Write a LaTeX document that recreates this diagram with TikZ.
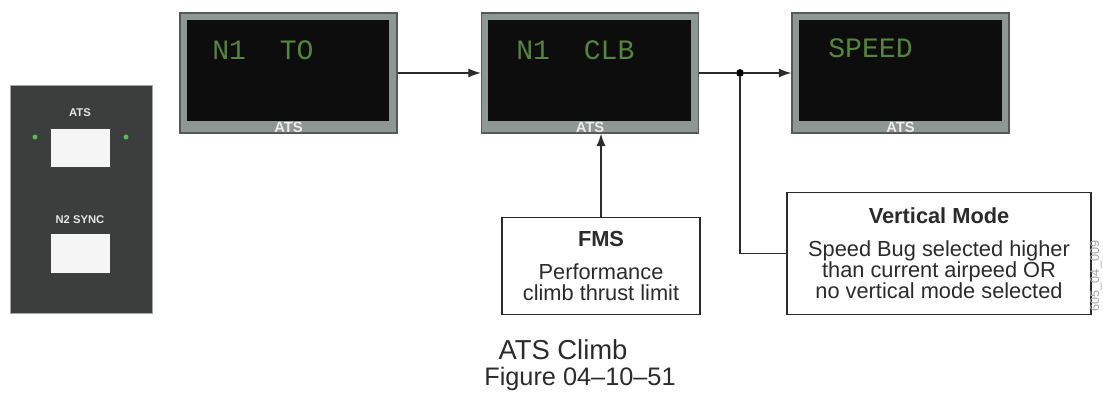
\documentclass[tikz,border=0pt]{standalone}
\usepackage{fontspec}
\setmainfont{Liberation Sans}
\newfontfamily\dotfont{Liberation Mono}
\usetikzlibrary{positioning, arrows, arrows.meta, shapes}
\definecolor{bezel}{HTML}{8D9793}
\definecolor{bezeledge}{HTML}{55595A}
\definecolor{lcdgreen}{HTML}{55863F}
\definecolor{panelgrey}{HTML}{3C3D3D}
\definecolor{ledgreen}{HTML}{52C24A}
\definecolor{inkgrey}{HTML}{2B2B2B}
\tikzstyle{frame} = [rectangle, draw=bezeledge, line width=0.8pt, fill=bezel, minimum width=5.425cm, minimum height=3cm]
\tikzstyle{screen} = [rectangle, fill=black!95, minimum width=5.05cm, minimum height=2.525cm]
\tikzstyle{readout} = [anchor=west, inner sep=0pt, text=lcdgreen, font=\dotfont\fontsize{20}{20}\selectfont]
\tikzstyle{stripname} = [inner sep=0.3pt, text=white!92!black, font=\bfseries\fontsize{10.5}{10.5}\selectfont]
\tikzstyle{infobox} = [rectangle, draw=inkgrey, line width=1pt, fill=white, align=center, text=inkgrey, font=\fontsize{15.5}{15}\selectfont]
\tikzstyle{arrow} = [line width=1pt, draw=inkgrey, ->, >={Latex[length=9pt, width=6.5pt]}]
\tikzstyle{wire} = [line width=1pt, draw=inkgrey]
\tikzstyle{junction} = [circle, fill=black, inner sep=0pt, minimum size=5.5pt]
\tikzstyle{button} = [rectangle, draw=black!75, fill=gray!8, minimum width=1.5cm, minimum height=0.975cm]
\tikzstyle{led} = [circle, fill=ledgreen, inner sep=0pt, minimum size=3.5pt]
\tikzstyle{panellabel} = [inner sep=0pt, text=white!90!black, font=\bfseries\fontsize{8}{8}\selectfont]
\tikzstyle{caption} = [inner sep=0pt, text=inkgrey, font=\fontsize{18}{21}\selectfont]

\begin{document}
\begin{tikzpicture}[x=0.025cm, y=-0.025cm]
        \useasboundingbox (0,0) rectangle (1103,399);

        \node (panel) [rectangle, fill=panelgrey, draw=gray!70, minimum width=3.55cm, minimum height=5.7cm] at (81,199) {};
        \node (atslabel) [panellabel] at (80,113) {ATS};
        \node (atsbutton) [button] at (80,147.5) {};
        \node (ledleft) [led] at (35,137) {};
        \node (ledright) [led] at (126,137) {};
        \node (synclabel) [panellabel] at (80,220) {N2 SYNC};
        \node (syncbutton) [button, minimum height=1cm] at (80,253) {};

        \node (toframe) [frame] at (288.5,73) {};
        \node (toscreen) [screen] at (288,70.5) {};
        \node (totext) [readout] at (212,50) {N1~~TO};
        \node (toats) [stripname, above=0.5pt of toframe.south] {ATS};

        \node (clbframe) [frame] at (590,73) {};
        \node (clbscreen) [screen] at (589.5,70.5) {};
        \node (clbtext) [readout] at (516,50) {N1~~CLB};
        \node (clbats) [stripname, above=0.5pt of clbframe.south] {ATS};

        \node (spdframe) [frame] at (900.5,73) {};
        \node (spdscreen) [screen] at (900.5,70.5) {};
        \node (spdtext) [readout] at (828,48) {SPEED};
        \node (spdats) [stripname, above=0.5pt of spdframe.south] {ATS};

        \node (fms) [infobox, minimum width=4.95cm, minimum height=2.425cm] at (601,266) {\textbf{FMS}\\[8.5pt]Performance\\climb thrust limit};
        \node (vmode) [infobox, minimum width=7.6cm, minimum height=3.05cm] at (939,253.5) {\textbf{Vertical Mode}\\[8.5pt]Speed Bug selected higher\\than current airpeed OR\\no vertical mode selected};
        \node (branch) [junction] at (740,73) {};

        \node (climbtitle) [caption, font=\fontsize{19.5}{21}\selectfont] at (563,350) {ATS Climb};
        \node (figno) [caption] at (580,379) {Figure 04--10--51};
        \node (drawingid) [rotate=90, text=gray!70, font=\fontsize{9}{9}\selectfont] at (1096,276) {605\_04\_009};

        \draw [arrow] (toframe) -- (clbframe);
        \draw [wire] (clbframe) -- (branch);
        \draw [arrow] (branch) -- (spdframe);
        \draw [wire] (branch) |- (vmode);
        \draw [arrow] (fms.north) -- (fms.north |- clbframe.south);

        \end{tikzpicture}
\end{document}
